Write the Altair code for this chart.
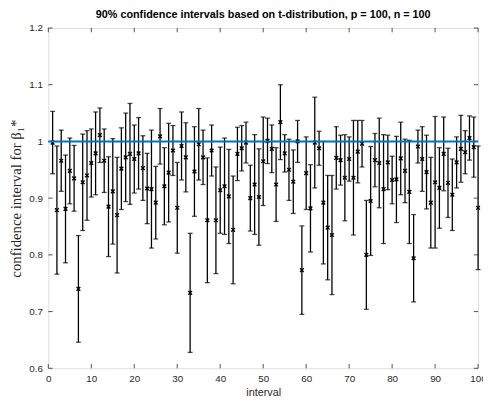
import altair as alt
import pandas as pd

# interval index 1..100
intervals = list(range(1, 101))

# point estimates (x markers)
centers = [
    0.998, 0.879, 0.966, 0.881, 0.948, 0.935, 0.740, 0.928, 0.940, 0.962,
    0.979, 1.011, 0.966, 0.885, 0.912, 0.870, 0.952, 0.972, 0.978, 0.969,
    0.979, 0.953, 0.917, 0.916, 0.892, 1.009, 0.921, 0.945, 0.984, 0.883,
    0.992, 0.972, 0.733, 0.947, 0.995, 0.972, 0.861, 0.984, 0.861, 0.914,
    0.921, 0.903, 0.844, 0.978, 0.988, 0.998, 0.900, 0.924, 0.902, 0.965,
    1.001, 0.987, 0.924, 1.034, 0.979, 0.950, 0.929, 1.000, 0.773, 0.944,
    0.882, 0.998, 0.988, 0.892, 0.848, 0.835, 0.971, 0.967, 0.936, 0.969,
    0.936, 0.982, 0.996, 0.800, 0.895, 0.967, 0.962, 0.916, 0.963, 0.932,
    0.933, 0.970, 0.948, 0.911, 0.794, 0.991, 0.969, 0.946, 0.892, 0.928,
    0.918, 0.978, 0.927, 0.906, 0.963, 0.987, 0.981, 1.006, 0.990, 0.883,
]

# half-widths of the intervals
half_widths = [
    0.055, 0.113, 0.054, 0.095, 0.058, 0.058, 0.094, 0.085, 0.079, 0.060,
    0.073, 0.048, 0.056, 0.088, 0.093, 0.102, 0.072, 0.078, 0.089, 0.060,
    0.063, 0.057, 0.062, 0.104, 0.064, 0.049, 0.068, 0.087, 0.044, 0.080,
    0.060, 0.061, 0.105, 0.079, 0.063, 0.048, 0.110, 0.045, 0.094, 0.076,
    0.085, 0.083, 0.095, 0.047, 0.040, 0.036, 0.058, 0.088, 0.085, 0.078,
    0.040, 0.042, 0.065, 0.066, 0.033, 0.054, 0.056, 0.037, 0.078, 0.064,
    0.077, 0.080, 0.030, 0.108, 0.092, 0.105, 0.055, 0.044, 0.076, 0.039,
    0.101, 0.055, 0.041, 0.096, 0.096, 0.047, 0.079, 0.096, 0.048, 0.042,
    0.076, 0.064, 0.056, 0.091, 0.077, 0.029, 0.057, 0.065, 0.080, 0.116,
    0.071, 0.065, 0.061, 0.063, 0.045, 0.059, 0.038, 0.039, 0.053, 0.109,
]

x_tick_values = [0, 10, 20, 30, 40, 50, 60, 70, 80, 90, 100]
y_tick_values = [0.6, 0.7, 0.8, 0.9, 1.0, 1.1, 1.2]
true_value = [1.0]

df = pd.DataFrame({
    "interval": intervals,
    "center": centers,
    "lo": [c - h for c, h in zip(centers, half_widths)],
    "hi": [c + h for c, h in zip(centers, half_widths)],
})
xt = pd.DataFrame({"interval": x_tick_values})
yt = pd.DataFrame({"center": y_tick_values})
tv = pd.DataFrame({"center": true_value})

W, H = 437, 346
AX = "#262626"

xscale = alt.Scale(domain=[0, 100], nice=False, zero=False)
yscale = alt.Scale(domain=[0.6, 1.2], nice=False, zero=False)
xaxis = alt.Axis(values=x_tick_values, ticks=False, domain=False, grid=False,
                 labelFontSize=10, labelColor=AX, labelPadding=5,
                 labelFlush=False, labelOverlap=False,
                 labelFont="Liberation Sans", title="interval",
                 titleFont="Liberation Sans", titleFontSize=11,
                 titleFontWeight="normal", titleColor=AX, titlePadding=4)
yaxis = alt.Axis(values=y_tick_values, ticks=False, domain=False, grid=False,
                 labelFontSize=10, labelColor=AX, labelPadding=6,
                 labelFlush=False, labelOverlap=False,
                 labelFont="Liberation Sans",
                 labelExpr="datum.value == 1 ? '1' : format(datum.value, '.1f')",
                 title="confidence interval for \u03b2\u2081*",
                 titleFont="Liberation Serif", titleFontSize=15,
                 titleFontWeight="normal", titleColor=AX, titlePadding=5)


def X(field):
    return alt.X(f"{field}:Q", scale=xscale, axis=xaxis)


def Y(field):
    return alt.Y(f"{field}:Q", scale=yscale, axis=yaxis)


base = alt.Chart(df)

bars = base.mark_rule(color="black", strokeWidth=1.3).encode(
    x=X("interval"), y=Y("lo"), y2="hi")
cap_lo = base.mark_tick(orient="horizontal", size=5, thickness=1.3,
                        color="black").encode(x=X("interval"), y=Y("lo"))
cap_hi = base.mark_tick(orient="horizontal", size=5, thickness=1.3,
                        color="black").encode(x=X("interval"), y=Y("hi"))
marks = base.mark_point(shape="M-1,-1L1,1M1,-1L-1,1", size=14, filled=False,
                        strokeWidth=1.4, color="black", opacity=1).encode(
    x=X("interval"), y=Y("center"))
blue = alt.Chart(tv).mark_rule(color="#0072BD", strokeWidth=2).encode(
    y=Y("center"))

xt_bot = alt.Chart(xt).mark_rule(color=AX, strokeWidth=0.8).encode(
    x=X("interval"), y=alt.value(H), y2=alt.value(H - 4.4))
xt_top = alt.Chart(xt).mark_rule(color=AX, strokeWidth=0.8).encode(
    x=X("interval"), y=alt.value(0), y2=alt.value(4.4))
yt_left = alt.Chart(yt).mark_rule(color=AX, strokeWidth=0.8).encode(
    y=Y("center"), x=alt.value(0), x2=alt.value(4.4))
yt_right = alt.Chart(yt).mark_rule(color=AX, strokeWidth=0.8).encode(
    y=Y("center"), x=alt.value(W), x2=alt.value(W - 4.4))

chart = alt.layer(
    xt_bot, xt_top, yt_left, yt_right, bars, cap_lo, cap_hi, marks, blue
).properties(
    width=W, height=H,
    title=alt.TitleParams(
        "90% confidence intervals based on t-distribution, p = 100, n = 100",
        font="Liberation Sans", fontSize=11, fontWeight="bold", color="black",
        anchor="middle", offset=3),
    autosize=alt.AutoSizeParams(type="none"),
    padding={"left": 41, "top": 17, "right": 5, "bottom": 35},
).configure_view(
    stroke=AX, strokeWidth=1
).configure(background="white")

chart.save("out.html", embed_options={"renderer": "svg", "actions": False})
